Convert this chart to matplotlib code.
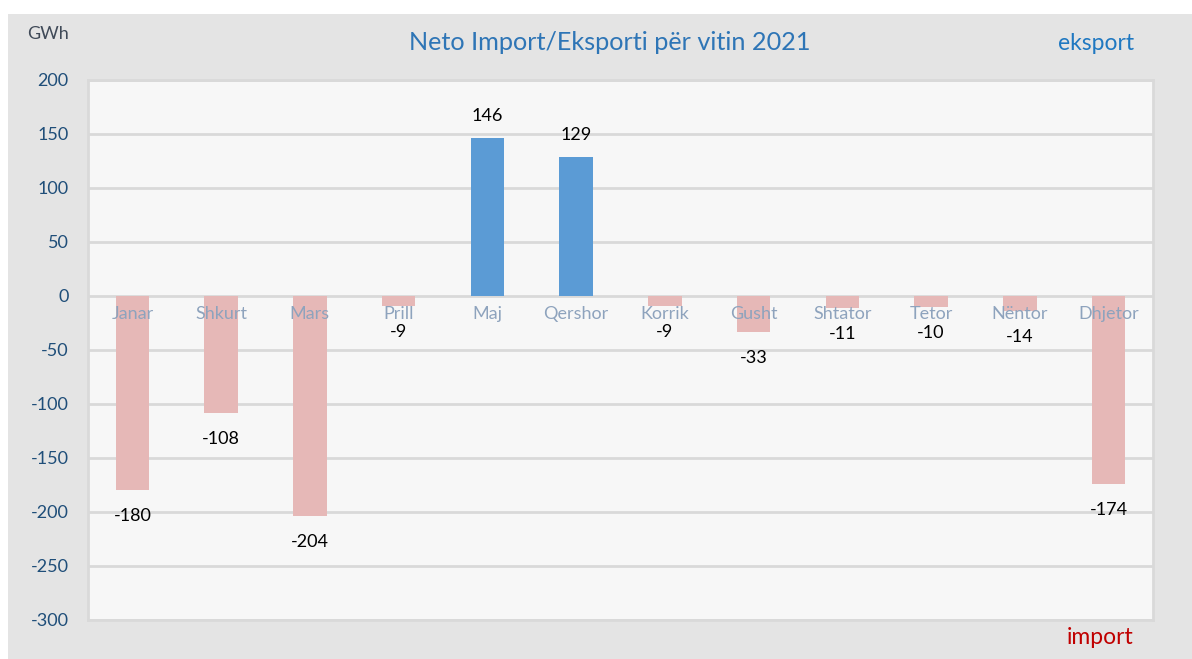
import matplotlib.pyplot as plt
from matplotlib.patches import Rectangle

muajt = ["Janar", "Shkurt", "Mars", "Prill", "Maj", "Qershor",
         "Korrik", "Gusht", "Shtator", "Tetor", "Nëntor", "Dhjetor"]
vlerat = [-180, -108, -204, -9, 146, 129, -9, -33, -11, -10, -14, -174]
y_ticks = [200, 150, 100, 50, 0, -50, -100, -150, -200, -250, -300]

plt.rcParams['font.family'] = ['Lato', 'DejaVu Sans']
plt.rcParams['axes.unicode_minus'] = False

fig = plt.figure(figsize=(11.92, 6.59), dpi=100, facecolor='white')
# sfondi gri i grafikut
fig.add_artist(Rectangle((8 / 1192, 0), 1 - 8 / 1192, 1 - 14 / 659,
                         transform=fig.transFigure, facecolor='#e4e4e4',
                         edgecolor='none', zorder=-5))

ax = fig.add_axes([88 / 1192, 1 - 620 / 659, 1065 / 1192, 540 / 659])
ax.set_zorder(2)
ax.set_facecolor('#f7f7f7')

x = list(range(len(muajt)))
ngjyrat = ['#5b9bd5' if v > 0 else '#e6b8b7' for v in vlerat]
ax.bar(x, vlerat, width=0.38, color=ngjyrat, zorder=3)

for xi, v in zip(x, vlerat):
    if v > 0:
        ax.annotate(str(v), (xi, v), xytext=(0, 10), textcoords='offset points',
                    ha='center', va='bottom', fontsize=13, color='black')
    else:
        ax.annotate(str(v), (xi, v), xytext=(0, -13), textcoords='offset points',
                    ha='center', va='top', fontsize=13, color='black')

# emrat e muajve afer vijes zero
for xi, m in zip(x, muajt):
    ax.text(xi, -17, m, ha='center', va='center', fontsize=13,
            color='#8ea3bd', zorder=4)

ax.set_xlim(-0.5, 11.5)
ax.set_ylim(-300, 200)
ax.set_yticks(y_ticks)
ax.set_xticks([])
ax.grid(axis='y', color='#d9d9d9', linewidth=2, zorder=1)
ax.tick_params(axis='y', length=0, labelsize=13, labelcolor='#1f4e79', pad=14)
for s in ax.spines.values():
    s.set_color('#d9d9d9')
    s.set_linewidth(2)

fig.text(610 / 1192, 1 - 42 / 659, "Neto Import/Eksporti për vitin 2021",
         ha='center', va='center', fontsize=18.2, color='#2e75b6')
fig.text(48 / 1192, 1 - 34 / 659, "GWh", ha='center', va='center',
         fontsize=13, color='#404a58')
fig.text(1096 / 1192, 1 - 44 / 659, "eksport", ha='center', va='center',
         fontsize=16.5, color='#1f78c1')
fig.text(1100 / 1192, 1 - 638 / 659, "import", ha='center', va='center',
         fontsize=16.5, color='#c00000')

fig.savefig('out.png', dpi=100, facecolor=fig.get_facecolor())
